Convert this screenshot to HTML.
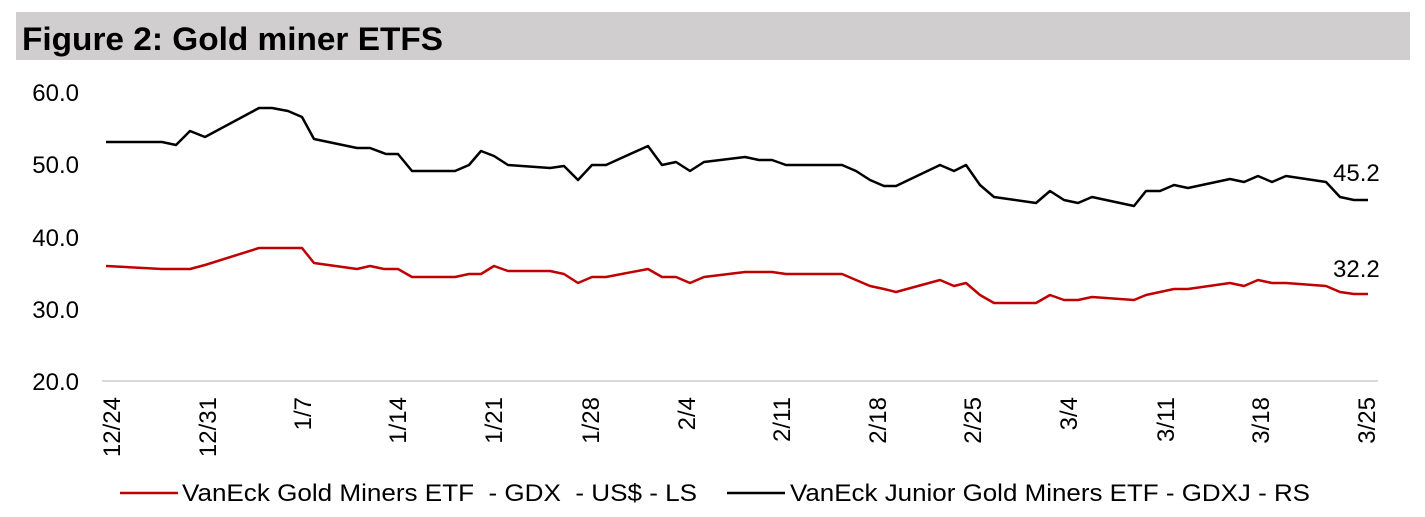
<!DOCTYPE html>
<html><head><meta charset="utf-8"><style>
body{margin:0;background:#fff;}
svg{display:block;font-family:"Liberation Sans",Arial,sans-serif;}
</style></head><body>
<svg width="1425" height="517" viewBox="0 0 1425 517" xmlns="http://www.w3.org/2000/svg">
<rect x="16" y="12" width="1394" height="48" fill="#d0cece"/>
<text x="22" y="50" font-size="32" font-weight="bold" fill="#000" textLength="421" lengthAdjust="spacingAndGlyphs">Figure 2: Gold miner ETFS</text>
<g font-size="24" fill="#000" text-anchor="end">
<text x="79" y="101">60.0</text>
<text x="79" y="173">50.0</text>
<text x="79" y="246">40.0</text>
<text x="79" y="318">30.0</text>
<text x="79" y="390">20.0</text>
</g>
<line x1="102" y1="381" x2="1378" y2="381" stroke="#d9d9d9" stroke-width="2"/>
<g font-size="24" fill="#000" text-anchor="end">
<text transform="translate(120,397) rotate(-90)">12/24</text>
<text transform="translate(216,397) rotate(-90)">12/31</text>
<text transform="translate(311,397) rotate(-90)">1/7</text>
<text transform="translate(406,397) rotate(-90)">1/14</text>
<text transform="translate(502,397) rotate(-90)">1/21</text>
<text transform="translate(599,397) rotate(-90)">1/28</text>
<text transform="translate(695,397) rotate(-90)">2/4</text>
<text transform="translate(790,397) rotate(-90)">2/11</text>
<text transform="translate(886,397) rotate(-90)">2/18</text>
<text transform="translate(981,397) rotate(-90)">2/25</text>
<text transform="translate(1077,397) rotate(-90)">3/4</text>
<text transform="translate(1174,397) rotate(-90)">3/11</text>
<text transform="translate(1269,397) rotate(-90)">3/18</text>
<text transform="translate(1375,397) rotate(-90)">3/25</text>
</g>
<polyline fill="none" stroke="#000" stroke-width="2.5" stroke-linejoin="round" points="106,142 162,142 176,145 190,131 205,137 259,108 272,108 288,111 302,117 314,139 357,148 370,148 386,154 398,154 412,171 455,171 469,165 481,151 494,156 508,165 550,168 564,166 578,180 592,165 606,165 648,146 662,165 676,162 690,171 704,162 745,157 759,160 772,160 786,165 842,165 856,171 870,180 884,186 896,186 940,165 954,171 966,165 980,185 994,197 1036,203 1050,191 1064,200 1078,203 1092,197 1134,206 1146,191 1160,191 1174,185 1188,188 1230,179 1244,182 1258,176 1272,182 1286,176 1326,182 1340,197 1354,200 1368,200"/>
<polyline fill="none" stroke="#c00000" stroke-width="2.5" stroke-linejoin="round" points="106,266 162,269 190,269 205,265 259,248 302,248 314,263 357,269 370,266 384,269 398,269 412,277 455,277 469,274 481,274 494,266 508,271 550,271 564,274 578,283 592,277 606,277 648,269 662,277 676,277 690,283 704,277 745,272 772,272 786,274 842,274 856,280 870,286 884,289 896,292 940,280 954,286 966,283 980,295 994,303 1036,303 1050,295 1064,300 1078,300 1092,297 1134,300 1146,295 1174,289 1188,289 1230,283 1244,286 1258,280 1272,283 1286,283 1326,286 1340,292 1354,294 1368,294"/>
<text x="1333" y="181" font-size="24" fill="#000">45.2</text>
<text x="1333" y="277" font-size="24" fill="#000">32.2</text>
<line x1="120" y1="493" x2="178" y2="493" stroke="#c00000" stroke-width="2.5"/>
<text x="182" y="501" font-size="24" fill="#000" xml:space="preserve" textLength="515" lengthAdjust="spacingAndGlyphs">VanEck Gold Miners ETF  - GDX  - US$ - LS</text>
<line x1="727" y1="493" x2="785" y2="493" stroke="#000" stroke-width="2.5"/>
<text x="790" y="501" font-size="24" fill="#000" textLength="520" lengthAdjust="spacingAndGlyphs">VanEck Junior Gold Miners ETF - GDXJ - RS</text>
</svg>
</body></html>
